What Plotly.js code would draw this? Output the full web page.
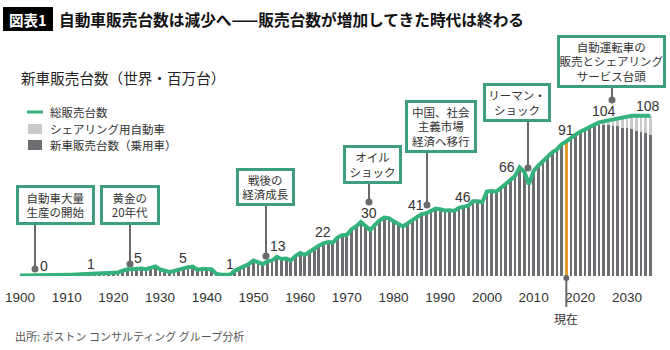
<!DOCTYPE html>
<html>
<head>
<meta charset="utf-8">
<script src="https://cdn.plot.ly/plotly-3.0.1.min.js"></script>
<style>html,body{margin:0;padding:0;background:#fff;}#chart{width:670px;height:350px;}</style>
</head>
<body>
<div id="chart"></div>
<script>
// ---------------- DATA ----------------
const startYear = 1900;
const totalSales = [
  0.3,0.3,0.3,0.3,0.4,0.4,0.5,0.5,0.6,0.7,
  0.8,0.9,1.0,1.2,1.3,1.6,2.0,2.2,2.0,2.4,
  2.8,2.4,3.6,4.6,4.5,5.0,5.0,4.6,5.4,6.4,
  4.4,3.6,2.8,3.4,4.4,5.4,6.0,6.3,4.2,4.8,
  4.9,4.6,1.5,0.8,0.8,1.0,3.5,5.0,6.0,8.0,
  10.5,9.5,8.0,10.0,10.5,13.0,11.5,11.8,10.5,13.5,
  15.5,14.2,16.5,18.5,20.5,22.0,23.0,22.6,26.0,27.5,
  27.8,31.5,33.5,36.5,34.0,31.0,34.5,37.5,39.5,39.0,
  37.0,35.0,33.5,35.5,37.4,40.0,41.8,42.4,44.0,45.5,
  45.2,44.2,44.5,44.0,46.0,47.0,47.5,50.5,50.5,49.8,
  57.0,57.5,57.0,59.5,62.2,64.5,67.5,73.4,70.5,62.0,
  71.0,74.5,77.5,81.0,83.6,85.5,89.0,91.0,93.5,95.5,
  97.5,99.0,101.0,102.5,103.8,104.5,105.2,105.8,106.6,107.3,
  108.0,108.3,108.3,108.3,108.3,108.3
];
const sharingYears  = [2024,2025,2026,2027,2028,2029,2030,2031,2032,2033,2034,2035];
const sharingValues = [1.5,2.5,3.5,4.5,5.5,7.0,8.0,9.0,10.5,11.0,12.0,13.0];
const currentYear = 2017;
const tickYears  = [1900,1910,1920,1930,1940,1950,1960,1970,1980,1990,2000,2010,2020,2030];
const tickLabels = ["1900","1910","1920","1930","1940","1950","1960","1970","1980","1990","2000","2010","2020","2030"];
const valueLabels = ["0","1","5","5","1","13","22","30","41","46","66","91","104","108"];
const eventTexts = [
  "自動車大量<br>生産の開始",
  "黄金の<br>20年代",
  "戦後の<br>経済成長",
  "オイル<br>ショック",
  "中国、社会<br>主義市場<br>経済へ移行",
  "リーマン・<br>ショック",
  "自動運転車の<br>販売とシェアリング<br>サービス台頭"
];
const legendNames = ["総販売台数","シェアリング用自動車","新車販売台数（乗用車）"];
const titleTag = "図表1";
const titleText = "自動車販売台数は減少へ——販売台数が増加してきた時代は終わる";
const subtitleText = "新車販売台数（世界・百万台）";
const nowText = "現在";
const sourceText = "出所: ボストン コンサルティング グループ分析";

// ---------------- BUILD ----------------
const years = totalSales.map((_, i) => startYear + i);
const sharing = years.map(y => { const k = sharingYears.indexOf(y); return k >= 0 ? sharingValues[k] : 0; });
const passenger = totalSales.map((v, i) => v - sharing[i]);

const W = 670, H = 350, BASE = 276;
const PPY = 607 / 130;      // px per year
const PPU = 1.48;           // px per unit
const xr = [1900 - 20 / PPY, 1900 + 650 / PPY];
const yr = [0, BASE / PPU];
const X = px => px / W;
const Y = py => 1 - py / BASE;

const GREEN = "#33b27b", TEAL = "#3e9e82", DARK = "#6d6e71", LIGHT = "#c9c9c9", ORANGE = "#e39b2d", STEM = "#6a6a6a";
const JP = "Noto Sans CJK JP, sans-serif";
const NUM = "Liberation Sans, Arial, sans-serif";

const traces = [
  { type: "bar", x: years, y: passenger, width: 0.58,
    marker: { color: years.map(y => y === currentYear ? ORANGE : DARK), line: { width: 0 } },
    hoverinfo: "skip", showlegend: false },
  { type: "bar", x: years, y: sharing, width: 0.58,
    marker: { color: LIGHT, line: { width: 0 } }, hoverinfo: "skip", showlegend: false },
  { type: "scatter", mode: "lines", x: years, y: totalSales,
    line: { color: GREEN, width: 4 }, hoverinfo: "skip", showlegend: false }
];

const shapes = [];
const annotations = [];

// title
shapes.push({ type: "rect", xref: "paper", yref: "paper", x0: X(3), x1: X(53), y0: Y(7), y1: Y(31), fillcolor: "#000", line: { width: 0 } });
annotations.push({ xref: "paper", yref: "paper", x: X(28), y: Y(19.5), text: "<b>" + titleTag + "</b>", showarrow: false,
  font: { family: JP, size: 14.5, color: "#fff" }, xanchor: "center", yanchor: "middle" });
annotations.push({ xref: "paper", yref: "paper", x: X(57), y: Y(19.5), text: "<b>" + titleText + "</b>", showarrow: false,
  font: { family: JP, size: 15.7, color: "#111" }, xanchor: "left", yanchor: "middle" });
annotations.push({ xref: "paper", yref: "paper", x: X(19), y: Y(77), text: subtitleText, showarrow: false,
  font: { family: JP, size: 14.6, color: "#222" }, xanchor: "left", yanchor: "middle" });

// legend
shapes.push({ type: "line", xref: "paper", yref: "paper", x0: X(27), x1: X(43), y0: Y(112), y1: Y(112), line: { color: GREEN, width: 3 } });
shapes.push({ type: "rect", xref: "paper", yref: "paper", x0: X(28), x1: X(42), y0: Y(124), y1: Y(134), fillcolor: LIGHT, line: { width: 0 } });
shapes.push({ type: "rect", xref: "paper", yref: "paper", x0: X(28), x1: X(42), y0: Y(140), y1: Y(150), fillcolor: DARK, line: { width: 0 } });
[112, 129, 145].forEach((py, i) => annotations.push({ xref: "paper", yref: "paper", x: X(48), y: Y(py), text: legendNames[i],
  showarrow: false, font: { family: JP, size: 11.5, color: "#333" }, xanchor: "left", yanchor: "middle" }));

// event boxes: [left, top, right, bottom, stemX, dotY]
const boxes = [
  [16, 185, 95, 225, 35, 269],
  [100, 185, 160, 225, 130, 264],
  [236, 168, 295, 206, 266, 256],
  [343, 145, 402, 184, 369, 202],
  [405, 100, 477, 153, 427, 205],
  [483, 83, 551, 122, 528, 168],
  [557, 35, 666, 88, 612, 100]
];
boxes.forEach((b, i) => {
  shapes.push({ type: "line", xref: "paper", yref: "paper", x0: X(b[4]), x1: X(b[4]), y0: Y(b[3]), y1: Y(b[5]), line: { color: STEM, width: 2 } });
  shapes.push({ type: "circle", xref: "paper", yref: "paper", x0: X(b[4] - 3.5), x1: X(b[4] + 3.5), y0: Y(b[5] - 3.5), y1: Y(b[5] + 3.5), fillcolor: STEM, line: { width: 0 } });
  annotations.push({ xref: "paper", yref: "paper", x: X((b[0] + b[2]) / 2), y: Y((b[1] + b[3]) / 2), text: eventTexts[i],
    showarrow: false, xanchor: "center", yanchor: "middle", width: b[2] - b[0] - 6, height: b[3] - b[1] - 6,
    bgcolor: "#fff", bordercolor: TEAL, borderwidth: 3, borderpad: 0,
    font: { family: JP, size: 11.5, color: "#333" } });
});

// value labels positions (px)
const labelPos = [[44,266],[91,264],[138,258],[183,258],[230,264],[278,246],[323,232],[369,213],[416,205],[463,197],[507,167],[566,130],[604,111],[648,106]];
labelPos.forEach((p, i) => annotations.push({ xref: "paper", yref: "paper", x: X(p[0]), y: Y(p[1]), text: valueLabels[i],
  showarrow: false, font: { family: NUM, size: 14, color: "#333" }, xanchor: "center", yanchor: "middle" }));

// "now" marker
const nowX = 20 + (currentYear - 1900) * PPY;
shapes.push({ type: "line", xref: "paper", yref: "paper", x0: X(nowX), x1: X(nowX), y0: Y(278), y1: Y(307), line: { color: STEM, width: 2 } });
shapes.push({ type: "circle", xref: "paper", yref: "paper", x0: X(nowX - 3), x1: X(nowX + 3), y0: Y(275), y1: Y(281), fillcolor: STEM, line: { width: 0 } });
annotations.push({ xref: "paper", yref: "paper", x: X(nowX), y: Y(318), text: nowText, showarrow: false,
  font: { family: JP, size: 12, color: "#333" }, xanchor: "center", yanchor: "middle" });

// source
annotations.push({ xref: "paper", yref: "paper", x: X(13), y: Y(336), text: sourceText, showarrow: false,
  font: { family: JP, size: 11, color: "#555" }, xanchor: "left", yanchor: "middle" });

const layout = {
  width: W, height: H,
  margin: { l: 0, r: 0, t: 0, b: H - BASE, pad: 0 },
  paper_bgcolor: "#fff", plot_bgcolor: "rgba(0,0,0,0)",
  barmode: "stack", bargap: 0,
  showlegend: false,
  xaxis: { range: xr, tickmode: "array", tickvals: tickYears, ticktext: tickLabels, ticks: "",
    showgrid: false, zeroline: false, showline: false, ticklabelstandoff: 11,
    tickfont: { family: NUM, size: 13.5, color: "#333" }, fixedrange: true },
  yaxis: { range: yr, visible: false, showgrid: false, zeroline: false, fixedrange: true },
  shapes: shapes,
  annotations: annotations
};

Plotly.newPlot("chart", traces, layout, { staticPlot: true, displayModeBar: false });
</script>
</body>
</html>
